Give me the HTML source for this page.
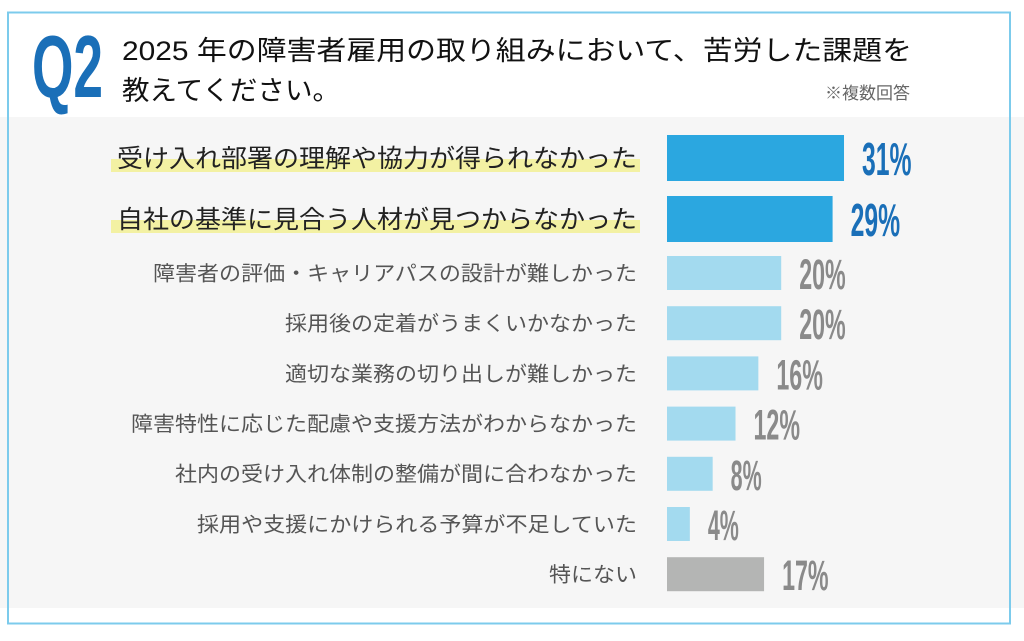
<!DOCTYPE html>
<html><head><meta charset="utf-8">
<style>
html,body{margin:0;padding:0;background:#fff;}
body{width:1024px;height:641px;overflow:hidden;position:relative;font-family:"Liberation Sans","Noto Sans CJK JP",sans-serif;}
svg{position:absolute;left:0;top:0;}
</style></head>
<body>
<svg id="chart" width="1024" height="641" viewBox="0 0 1024 641">
  <rect x="0" y="117" width="1024" height="491" fill="#f6f6f6"/>
  <rect x="8" y="12.5" width="1002" height="611" fill="none" stroke="#7ccbec" stroke-width="2"/>
  <text x="32" y="97" font-family="Liberation Sans Narrow, Liberation Sans, sans-serif" font-weight="bold" font-size="88" fill="#1a6fb8" textLength="71" lengthAdjust="spacingAndGlyphs">Q2</text>
  <text x="122" y="60" font-size="27" fill="#111" textLength="790" lengthAdjust="spacingAndGlyphs" font-family="Liberation Sans, Noto Sans CJK JP, sans-serif">2025 年の障害者雇用の取り組みにおいて、苦労した課題を</text>
  <text x="122" y="100" font-size="27" fill="#111" textLength="218" lengthAdjust="spacingAndGlyphs" font-family="Liberation Sans, Noto Sans CJK JP, sans-serif">教えてください。</text>
  <text x="910" y="99" text-anchor="end" font-size="17" fill="#666" font-family="Liberation Sans, Noto Sans CJK JP, sans-serif">※複数回答</text>
  <g id="rows"></g>
</svg>
<script>
const categories = ["受け入れ部署の理解や協力が得られなかった","自社の基準に見合う人材が見つからなかった","障害者の評価・キャリアパスの設計が難しかった","採用後の定着がうまくいかなかった","適切な業務の切り出しが難しかった","障害特性に応じた配慮や支援方法がわからなかった","社内の受け入れ体制の整備が間に合わなかった","採用や支援にかけられる予算が不足していた","特にない"];
const values = [31,29,20,20,16,12,8,4,17];
const highlighted = [true,true,false,false,false,false,false,false,false];
const isNone = [false,false,false,false,false,false,false,false,true];

const NS = "http://www.w3.org/2000/svg";
const x0 = 667, pxPerPct = 5.71;
function xScale(v){ return x0 + v * pxPerPct; }
function rowCenter(i){ return i < 2 ? 158 + i * 61 : 273 + (i - 2) * 50.2; }
const g = document.getElementById("rows");
function mk(tag, attrs){ const e = document.createElementNS(NS, tag); for (const k in attrs) e.setAttribute(k, attrs[k]); return e; }

categories.forEach((cat, i) => {
  const cy = rowCenter(i);
  const big = highlighted[i];
  const h = big ? 46 : 34;
  const fs = big ? 25 : 20.5;
  const textW = cat.length * (big ? 26 : 22);
  if (big) {
    const hl = mk("rect", {x: 637 - textW - 6, y: cy + 1, width: textW + 9, height: 13, fill: "#f3f1a3"});
    
    
    g.appendChild(hl);
  }
  const lab = mk("text", {x: 637 - textW, y: cy + fs * 0.36, "font-size": fs, fill: big ? "#222" : "#555", textLength: textW, lengthAdjust: "spacingAndGlyphs", "font-family": "Liberation Sans, Noto Sans CJK JP, sans-serif"});
  lab.textContent = cat;
  
  
  g.appendChild(lab);
  const color = big ? "#2ba7e0" : (isNone[i] ? "#b4b5b4" : "#a3daef");
  const bar = mk("rect", {x: x0, y: cy - h / 2, width: xScale(values[i]) - x0, height: h, fill: color});
  
  
  g.appendChild(bar);
  const label = values[i] + "%";
  const vfs = big ? 46 : 43;
  const vt = mk("text", {x: xScale(values[i]) + 18, y: cy + (big ? 17 : 16), "font-size": vfs, "font-weight": "bold", fill: big ? "#1a6fb8" : "#8a8a8a", "font-family": "Liberation Sans Narrow, Liberation Sans, sans-serif", textLength: label.length * (big ? 16.5 : 15.5), lengthAdjust: "spacingAndGlyphs"});
  vt.textContent = label;
  
  
  g.appendChild(vt);
});
</script>
</body></html>
